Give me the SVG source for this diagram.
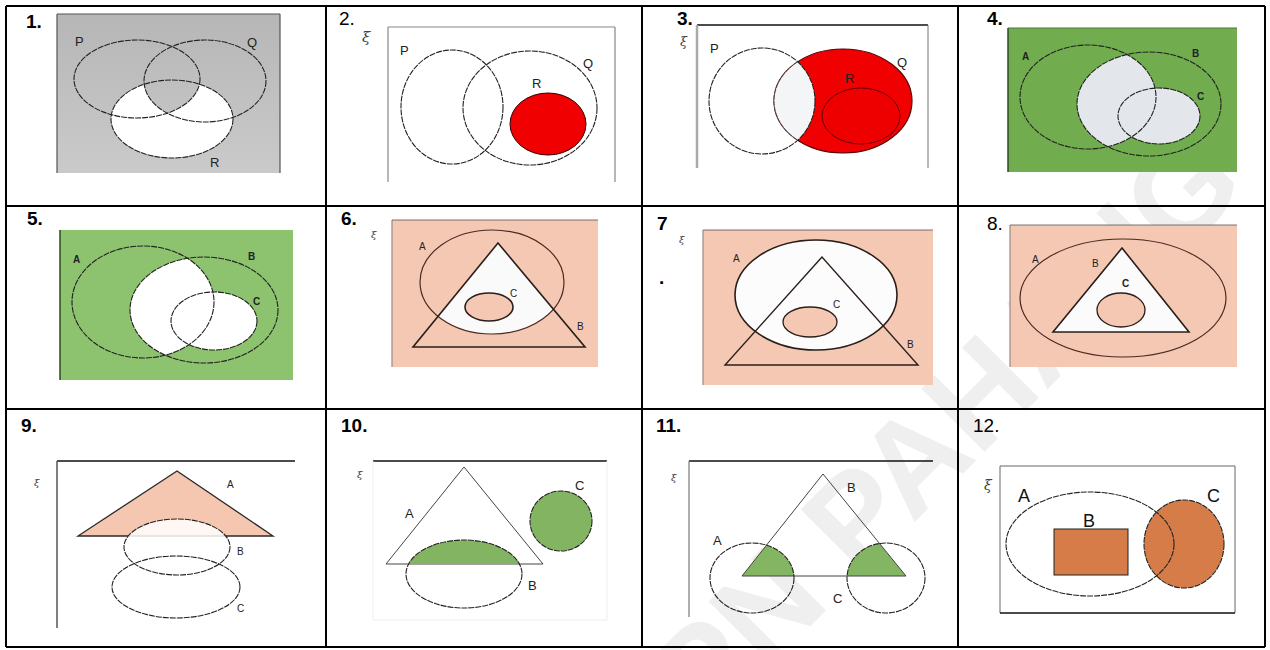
<svg xmlns="http://www.w3.org/2000/svg" width="1270" height="650" viewBox="0 0 1270 650">
<style>
.num{font-family:"Liberation Sans",Arial,sans-serif;font-size:19px;fill:#000}
.b{font-weight:bold}
.lbl{font-family:"Liberation Sans",Arial,sans-serif;font-size:13px;fill:#222}
.sm{font-family:"Liberation Sans",Arial,sans-serif;font-size:10px;fill:#222;font-weight:bold}
.sr{font-family:"Liberation Sans",Arial,sans-serif;font-size:10px;fill:#222}
.big{font-family:"Liberation Sans",Arial,sans-serif;font-size:18px;fill:#111}
.xi{font-family:"DejaVu Serif",serif;font-style:italic;fill:#444}
.d{fill:none;stroke:#222;stroke-width:1.1;stroke-dasharray:6 1}
.grid{stroke:#000;stroke-width:2;fill:none}
.wm{font-family:"Liberation Sans",Arial,sans-serif;font-weight:bold;font-size:130px;fill:#efefef}
</style>
<defs>
<linearGradient id="g1" gradientUnits="userSpaceOnUse" x1="0" y1="14" x2="0" y2="173"><stop offset="0" stop-color="#b6b6b6"/><stop offset="1" stop-color="#cacaca"/></linearGradient>
<clipPath id="cQ1"><ellipse cx="205" cy="81" rx="61" ry="41"/></clipPath>
<clipPath id="cQ3"><ellipse cx="843" cy="101" rx="69" ry="52"/></clipPath>
<clipPath id="cP3"><ellipse cx="762" cy="101" rx="53" ry="53"/></clipPath>
<clipPath id="cB4"><ellipse cx="1149" cy="104" rx="72" ry="52"/></clipPath>
<clipPath id="cB5"><ellipse cx="204" cy="310" rx="74" ry="53"/></clipPath>
<clipPath id="cT6"><polygon points="498,243 413,347 585,347"/></clipPath>
<clipPath id="cT10"><polygon points="464,467 386,564 543,564"/></clipPath>
<clipPath id="cT11"><polygon points="823,474 742,576 906,576"/></clipPath>
</defs>
<rect width="1270" height="650" fill="#fff"/>
<text class="wm" transform="translate(1216,154) rotate(-45)" x="0" y="47" text-anchor="end">JPN PAHANG</text>

<g id="table">
<path class="grid" d="M6,6H1265M6,206H1265M6,409H1265M6,647H1265M6,6V647M326,6V647M642,6V647M958,6V647M1265,6V647"/>
</g>

<g id="cell1">
<text class="num b" x="26" y="28">1.</text>
<rect x="57" y="14" width="223" height="159" fill="url(#g1)"/>
<path d="M57,14H280M57,14V173M280,14V173" stroke="#555" stroke-width="1.2" fill="none"/>
<ellipse cx="172" cy="119" rx="61" ry="39" fill="#fff"/>
<ellipse cx="137" cy="79" rx="63" ry="39" fill="url(#g1)" clip-path="url(#cQ1)"/>
<ellipse class="d" cx="137" cy="79" rx="63" ry="39"/>
<ellipse class="d" cx="205" cy="81" rx="61" ry="41"/>
<ellipse class="d" cx="172" cy="119" rx="61" ry="39"/>
<text class="lbl" x="75" y="46">P</text>
<text class="lbl" x="247" y="47">Q</text>
<text class="lbl" x="210" y="167">R</text>
</g>

<g id="cell2">
<text class="num" x="339" y="25">2.</text>
<text class="xi" x="362" y="42" font-size="15">ξ</text>
<path d="M388,27H615M388,27V182M615,27V182" stroke="#888" stroke-width="1.2" fill="none"/>
<ellipse class="d" cx="452" cy="107" rx="51" ry="57"/>
<ellipse class="d" cx="530" cy="108" rx="67" ry="57"/>
<ellipse cx="548" cy="124" rx="38" ry="31" fill="#f00000" stroke="#300" stroke-width="1"/>
<text class="lbl" x="400" y="55">P</text>
<text class="lbl" x="583" y="68">Q</text>
<text class="lbl" x="532" y="88">R</text>
</g>

<g id="cell3">
<text class="num b" x="677" y="25">3.</text>
<text class="xi" x="680" y="46" font-size="13">ξ</text>
<path d="M697,25H928" stroke="#111" stroke-width="1.3"/>
<path d="M697,25V168" stroke="#aaa" stroke-width="2.5"/>
<path d="M928,25V168" stroke="#777" stroke-width="1"/>
<ellipse cx="843" cy="101" rx="69" ry="52" fill="#f00000" stroke="#5a0000" stroke-width="1.2"/>
<ellipse cx="762" cy="101" rx="53" ry="53" fill="#f3f5f7" clip-path="url(#cQ3)"/>
<ellipse cx="843" cy="101" rx="69" ry="52" fill="none" stroke="#444" stroke-width="1" stroke-dasharray="5 1" clip-path="url(#cP3)"/>
<ellipse cx="861" cy="116" rx="39" ry="28" fill="#ef0000" stroke="#6a0000" stroke-width="1"/>
<ellipse class="d" cx="762" cy="101" rx="53" ry="53"/>
<text class="lbl" x="710" y="53">P</text>
<text class="lbl" x="897" y="67">Q</text>
<text class="lbl" x="845" y="83" fill="#400">R</text>
</g>

<g id="cell4">
<text class="num b" x="987" y="25">4.</text>
<rect x="1008" y="28" width="229" height="144" fill="#71ad4f"/>
<path d="M1008,28V172" stroke="#2d4a22" stroke-width="1.5"/>
<path d="M1008,28H1237" stroke="#4c7a36" stroke-width="1"/>
<ellipse cx="1088" cy="97" rx="68" ry="52" fill="#e3e6ea" clip-path="url(#cB4)"/>
<ellipse cx="1159" cy="116" rx="41" ry="28" fill="#e3e6ea"/>
<ellipse class="d" cx="1088" cy="97" rx="68" ry="52" stroke="#13200c"/>
<ellipse class="d" cx="1149" cy="104" rx="72" ry="52" stroke="#13200c"/>
<ellipse class="d" cx="1159" cy="116" rx="41" ry="28" stroke="#13200c"/>
<text class="sm" x="1022" y="60">A</text>
<text class="sm" x="1192" y="57">B</text>
<text class="sm" x="1197" y="100">C</text>
</g>

<g id="cell5">
<text class="num b" x="27" y="225">5.</text>
<rect x="60" y="230" width="233" height="150" fill="#8dc26e"/>
<path d="M60,230V380" stroke="#2d4a22" stroke-width="1.5"/>
<ellipse cx="143" cy="302" rx="71" ry="56" fill="#fff" clip-path="url(#cB5)"/>
<ellipse cx="214" cy="321" rx="43" ry="29" fill="#fff"/>
<ellipse class="d" cx="143" cy="302" rx="71" ry="56" stroke="#13200c"/>
<ellipse class="d" cx="204" cy="310" rx="74" ry="53" stroke="#13200c"/>
<ellipse class="d" cx="214" cy="321" rx="43" ry="29" stroke="#13200c"/>
<text class="sm" x="73" y="263">A</text>
<text class="sm" x="248" y="260">B</text>
<text class="sm" x="253" y="305">C</text>
</g>

<g id="cell6">
<text class="num b" x="341" y="225">6.</text>
<text class="xi" x="371" y="238" font-size="10">ξ</text>
<rect x="392" y="220" width="206" height="147" fill="#f4c8b3"/>
<path d="M392,220V367" stroke="#9a8a84" stroke-width="1.2"/>
<path d="M392,220H598" stroke="#555" stroke-width="0.8"/>
<ellipse cx="492" cy="282" rx="72" ry="52" fill="#fafafa" clip-path="url(#cT6)"/>
<ellipse cx="492" cy="282" rx="72" ry="52" fill="none" stroke="#4a2a22" stroke-width="1.2"/>
<polygon points="498,243 413,347 585,347" fill="none" stroke="#2a1e1a" stroke-width="1.6"/>
<ellipse cx="489" cy="307" rx="24" ry="14" fill="#f4c8b3" stroke="#2a1e1a" stroke-width="1.6"/>
<text class="sr" x="419" y="250">A</text>
<text class="sr" x="577" y="330">B</text>
<text class="sr" x="510" y="297">C</text>
</g>

<g id="cell7">
<text class="num b" x="657" y="230">7</text>
<text class="num b" x="659" y="284">.</text>
<text class="xi" x="679" y="243" font-size="10">ξ</text>
<rect x="703" y="230" width="230" height="155" fill="#f4c8b3"/>
<path d="M703,230V385" stroke="#9a8a84" stroke-width="1.2"/>
<path d="M703,230H933" stroke="#555" stroke-width="0.8"/>
<ellipse cx="816" cy="295" rx="81" ry="55" fill="#fcfcfc" stroke="#2a1e1a" stroke-width="1.6"/>
<polygon points="822,257 725,365 918,365" fill="none" stroke="#2a1e1a" stroke-width="1.4"/>
<ellipse cx="810" cy="322" rx="27" ry="15" fill="#f4c8b3" stroke="#2a1e1a" stroke-width="1.3"/>
<text class="sr" x="733" y="262">A</text>
<text class="sr" x="907" y="348">B</text>
<text class="sr" x="833" y="308">C</text>
</g>

<g id="cell8">
<text class="num" x="987" y="230">8.</text>
<rect x="1010" y="225" width="227" height="142" fill="#f4c8b3"/>
<path d="M1010,225V367" stroke="#9a8a84" stroke-width="1.2"/>
<path d="M1010,225H1237" stroke="#555" stroke-width="0.8"/>
<ellipse cx="1123" cy="298" rx="103" ry="59" fill="none" stroke="#4a2a22" stroke-width="1.2"/>
<polygon points="1122,248 1053,332 1189,332" fill="#fbfbfb" stroke="#2a1e1a" stroke-width="1.6"/>
<ellipse cx="1121" cy="310" rx="24" ry="17" fill="#f4c8b3" stroke="#2a1e1a" stroke-width="1.3"/>
<text class="sr" x="1032" y="263">A</text>
<text class="sr" x="1092" y="267">B</text>
<text class="sm" x="1122" y="287">C</text>
</g>

<g id="cell9">
<text class="num b" x="21" y="432">9.</text>
<text class="xi" x="34" y="486" font-size="10">ξ</text>
<path d="M57,461H295" stroke="#111" stroke-width="1.3"/>
<path d="M57,461V628" stroke="#555" stroke-width="1.5"/>
<polygon points="177,471 78,536 273,536" fill="#f5c6b0" stroke="#2a2a2a" stroke-width="1.3"/>
<ellipse cx="177" cy="547" rx="53" ry="28" fill="#fff" fill-opacity="0.85"/>
<ellipse class="d" cx="177" cy="547" rx="53" ry="28" stroke-width="1.4"/>
<ellipse class="d" cx="176" cy="587" rx="64" ry="31" stroke-width="1.4"/>
<text class="sr" x="227" y="488">A</text>
<text class="sr" x="237" y="555">B</text>
<text class="sr" x="237" y="612">C</text>
</g>

<g id="cell10">
<text class="num b" x="341" y="432">10.</text>
<text class="xi" x="357" y="478" font-size="10">ξ</text>
<path d="M373,461H607" stroke="#111" stroke-width="1.3"/>
<path d="M373,461V620H607V461" stroke="#eeeeee" stroke-width="1" fill="none"/>
<polygon points="464,467 386,564 543,564" fill="#fff" stroke="#444" stroke-width="1"/>
<ellipse cx="464" cy="574" rx="58" ry="34" fill="#82b462" clip-path="url(#cT10)"/>
<ellipse class="d" cx="464" cy="574" rx="58" ry="34"/>
<ellipse cx="561" cy="521" rx="31" ry="30" fill="#82b462"/>
<ellipse class="d" cx="561" cy="521" rx="31" ry="30"/>
<text class="lbl" x="405" y="518">A</text>
<text class="lbl" x="528" y="590">B</text>
<text class="lbl" x="575" y="490">C</text>
</g>

<g id="cell11">
<text class="num b" x="656" y="432">11.</text>
<text class="xi" x="671" y="481" font-size="10">ξ</text>
<path d="M689,461H933" stroke="#111" stroke-width="1.3"/>
<path d="M689,461V617" stroke="#777" stroke-width="1.2"/>
<g clip-path="url(#cT11)">
<ellipse cx="752" cy="578" rx="42" ry="35" fill="#84b562"/>
<ellipse cx="886" cy="578" rx="39" ry="35" fill="#84b562"/>
</g>
<polygon points="823,474 742,576 906,576" fill="none" stroke="#444" stroke-width="1"/>
<ellipse class="d" cx="752" cy="578" rx="42" ry="35"/>
<ellipse class="d" cx="886" cy="578" rx="39" ry="35"/>
<text class="lbl" x="713" y="545">A</text>
<text class="lbl" x="847" y="492">B</text>
<text class="lbl" x="833" y="603">C</text>
</g>

<g id="cell12">
<text class="num" x="973" y="432">12.</text>
<text class="xi" x="984" y="490" font-size="14">ξ</text>
<path d="M1000,466H1235V613M1000,466V613" stroke="#666" stroke-width="1" fill="none"/>
<path d="M1000,613H1235" stroke="#111" stroke-width="1.3"/>
<rect x="1054" y="529" width="74" height="46" fill="#d57c48" stroke="#222" stroke-width="1"/>
<ellipse cx="1184" cy="544" rx="40" ry="44" fill="#d57c48"/>
<ellipse class="d" cx="1184" cy="544" rx="40" ry="44"/>
<ellipse class="d" cx="1090" cy="544" rx="84" ry="52"/>
<text class="big" x="1018" y="502">A</text>
<text class="big" x="1083" y="527">B</text>
<text class="big" x="1207" y="502">C</text>
</g>
</svg>
